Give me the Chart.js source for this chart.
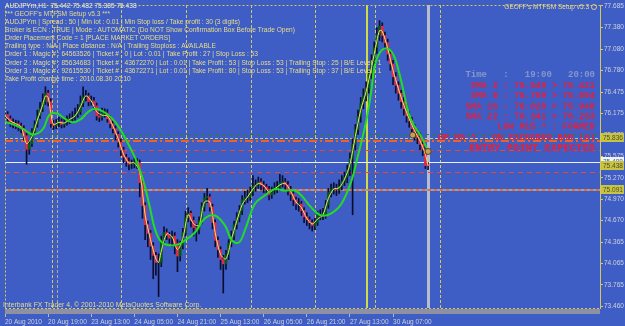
<!DOCTYPE html>
<html>
<head>
<meta charset="utf-8">
<title>AUDJPYm,H1</title>
<script src="https://cdn.jsdelivr.net/npm/chart.js@4.4.0/dist/chart.umd.min.js"></script>
<style>
  html, body { margin: 0; padding: 0; background: #3e5ec6; overflow: hidden; }
  #wrap { width: 625px; height: 326px; }
</style>
</head>
<body>
<div id="wrap"><canvas id="chart" width="625" height="326"></canvas></div>
<script>
// H1 bars, AUDJPYm, 20 Aug 2010 -> 30 Aug 2010 20:00
const opens = [
  76.12,76.16,76.10,76.05,76.02,76.03,76.00,75.96,75.86,75.67,
  75.75,75.92,76.02,76.14,76.24,76.34,76.46,76.34,76.03,76.00,
  76.03,76.06,76.02,76.05,76.07,76.10,76.12,76.16,76.20,76.32,
  76.41,76.42,76.34,76.35,76.28,76.14,76.12,76.18,76.18,76.10,
  76.03,75.96,75.88,75.77,75.66,75.56,75.50,75.46,75.46,75.49,
  75.48,75.20,74.88,74.61,74.49,74.31,74.18,74.08,74.08,74.39,
  74.50,74.46,74.42,74.45,74.35,74.17,74.32,74.50,74.71,74.77,
  74.67,74.57,74.54,74.67,74.86,74.99,75.00,74.86,74.64,74.39,
  74.26,74.12,74.06,74.19,74.35,74.45,74.61,74.71,74.81,74.96,
  74.99,75.00,75.07,75.15,75.17,75.21,75.17,75.14,75.11,75.03,
  75.09,75.13,75.14,75.20,75.21,75.17,75.11,75.04,74.96,74.90,
  74.90,74.81,74.72,74.68,74.64,74.60,74.64,74.74,74.75,74.75,
  74.89,75.06,75.11,75.11,75.10,75.15,75.22,75.28,75.38,75.54,
  75.74,75.95,76.13,76.31,76.42,76.53,76.73,76.91,77.10,77.28,
  77.40,77.27,77.17,77.01,76.87,76.69,76.57,76.46,76.34,76.24,
  76.14,76.07,75.96,75.89,75.84,75.74,75.67,75.442
];
const highs = [
  76.22,76.20,76.14,76.10,76.08,76.07,76.04,76.00,75.90,75.80,
  75.96,76.07,76.22,76.33,76.45,76.55,76.50,76.38,76.08,76.09,
  76.12,76.10,76.11,76.14,76.17,76.20,76.25,76.30,76.42,76.55,
  76.50,76.46,76.42,76.40,76.32,76.20,76.25,76.24,76.23,76.14,
  76.07,76.00,75.92,75.82,75.70,75.60,75.55,75.52,75.55,75.54,
  75.52,75.24,74.92,74.66,74.53,74.36,74.22,74.20,74.45,74.58,
  74.55,74.50,74.52,74.50,74.40,74.38,74.56,74.80,74.85,74.80,
  74.72,74.62,74.72,74.92,75.05,75.12,75.04,74.90,74.68,74.44,
  74.30,74.18,74.25,74.40,74.52,74.66,74.78,74.88,75.02,75.08,
  75.10,75.14,75.30,75.24,75.28,75.26,75.22,75.18,75.15,75.14,
  75.20,75.22,75.32,75.30,75.26,75.22,75.15,75.08,75.00,74.98,
  74.94,74.85,74.78,74.72,74.68,74.70,74.80,74.82,74.84,74.95,
  75.12,75.18,75.20,75.18,75.24,75.30,75.35,75.45,75.62,75.82,
  76.02,76.22,76.40,76.52,76.62,76.80,77.00,77.18,77.38,77.48,
  77.45,77.32,77.22,77.06,76.92,76.75,76.62,76.50,76.40,76.30,
  76.20,76.12,76.02,75.95,75.90,75.80,75.72,75.482
];
const lows = [
  76.08,76.05,75.99,75.97,75.96,75.93,75.90,75.80,75.46,75.60,
  75.71,75.88,75.98,76.10,76.20,76.30,76.28,75.98,75.95,75.96,
  75.99,75.97,75.98,76.01,76.03,76.06,76.08,76.12,76.16,76.27,
  76.35,76.28,76.29,76.22,76.08,76.06,76.08,76.12,76.05,75.97,
  75.90,75.80,75.70,75.58,75.48,75.43,75.38,75.40,75.41,75.40,
  75.00,74.70,74.40,74.30,74.12,73.85,73.90,73.60,74.02,74.33,
  74.40,74.35,74.30,74.20,73.95,74.10,74.27,74.45,74.65,74.58,
  74.45,74.38,74.48,74.62,74.80,74.92,74.80,74.55,74.30,74.15,
  73.98,73.65,73.98,74.12,74.30,74.40,74.55,74.65,74.75,74.90,
  74.92,74.95,75.02,75.08,75.12,75.10,75.06,75.04,74.96,74.98,
  75.04,75.06,75.09,75.14,75.10,75.03,74.95,74.88,74.82,74.80,
  74.74,74.64,74.60,74.55,74.52,74.54,74.60,74.68,74.68,74.70,
  74.84,75.00,75.04,75.02,75.05,75.10,75.16,75.20,75.30,74.75,
  75.66,75.88,76.05,76.24,76.35,76.46,76.66,76.85,77.02,77.20,
  77.18,77.08,76.92,76.78,76.58,76.46,76.36,76.25,76.15,76.05,
  75.98,75.88,75.80,75.75,75.66,75.58,75.40,75.385
];
const closes = [
  76.16,76.10,76.05,76.02,76.03,76.00,75.96,75.86,75.67,75.75,
  75.92,76.02,76.14,76.24,76.34,76.46,76.34,76.03,76.00,76.03,
  76.06,76.02,76.05,76.07,76.10,76.12,76.16,76.20,76.32,76.41,
  76.42,76.34,76.35,76.28,76.14,76.12,76.18,76.18,76.10,76.03,
  75.96,75.88,75.77,75.66,75.56,75.50,75.46,75.46,75.49,75.48,
  75.20,74.88,74.61,74.49,74.31,74.18,74.08,74.08,74.39,74.50,
  74.46,74.42,74.45,74.35,74.17,74.32,74.50,74.71,74.77,74.67,
  74.57,74.54,74.67,74.86,74.99,75.00,74.86,74.64,74.39,74.26,
  74.12,74.06,74.19,74.35,74.45,74.61,74.71,74.81,74.96,74.99,
  75.00,75.07,75.15,75.17,75.21,75.17,75.14,75.11,75.03,75.09,
  75.13,75.14,75.20,75.21,75.17,75.11,75.04,74.96,74.90,74.90,
  74.81,74.72,74.68,74.64,74.60,74.64,74.74,74.75,74.75,74.89,
  75.06,75.11,75.11,75.10,75.15,75.22,75.28,75.38,75.54,75.74,
  75.95,76.13,76.31,76.42,76.53,76.73,76.91,77.10,77.28,77.40,
  77.27,77.17,77.01,76.87,76.69,76.57,76.46,76.34,76.24,76.14,
  76.07,75.96,75.89,75.84,75.74,75.67,75.44,75.438
];

// fast (yellow) and slow (green) moving averages, [bar, price]
const fastSma = [
  [0,76.14],[2,76.07],[4,76.03],[6,75.98],[8,75.75],[10,75.85],[12,76.08],[14,76.30],[15,76.42],
  [16,76.40],[17,76.18],[18,76.02],[20,76.05],[22,76.04],[24,76.09],[26,76.14],[28,76.27],
  [30,76.42],[32,76.35],[34,76.20],[36,76.15],[38,76.14],[40,76.00],[42,75.82],[44,75.60],
  [46,75.48],[48,75.48],[50,75.35],[52,74.75],[54,74.40],[56,74.13],[57,74.08],[58,74.24],
  [60,74.48],[62,74.44],[64,74.26],[66,74.42],[68,74.75],[70,74.62],[72,74.60],[74,74.93],
  [76,74.93],[78,74.50],[80,74.19],[82,74.13],[84,74.40],[86,74.66],[88,74.89],[90,75.00],
  [92,75.11],[94,75.19],[96,75.16],[98,75.07],[100,75.11],[102,75.17],[104,75.19],[106,75.08],
  [108,74.93],[110,74.85],[112,74.70],[114,74.62],[116,74.69],[118,74.75],[120,74.98],
  [122,75.11],[124,75.13],[126,75.25],[128,75.46],[130,75.85],[132,76.22],[134,76.48],
  [136,76.82],[138,77.19],[139,77.34],[140,77.33],[142,77.09],[144,76.78],[146,76.52],
  [148,76.29],[150,76.10],[152,75.93],[154,75.79],[156,75.60],[157,75.44]
];
const slowSma = [
  [0,76.06],[3,76.02],[6.6,75.96],[10.3,75.88],[14,75.95],[16.6,76.16],[19.6,76.17],[22.2,76.10],
  [25.1,76.05],[28,76.09],[31,76.20],[33.6,76.24],[37.3,76.18],[41,76.05],[44.7,75.82],
  [48.4,75.54],[51,75.27],[53.5,74.90],[55.8,74.53],[58.3,74.36],[63.1,74.32],[66.8,74.39],
  [70.5,74.50],[74.2,74.70],[77.9,74.74],[81.6,74.60],[84.2,74.39],[86.8,74.36],[89,74.53],
  [92.7,74.90],[96.4,75.02],[100,75.11],[103.8,75.09],[107.5,75.09],[110,75.02],[113.7,74.85],
  [117.4,74.74],[121.1,74.77],[124.8,74.90],[128.5,75.22],[131.1,75.60],[134,76.06],
  [135.9,76.48],[137,76.80],[138.8,77.01],[141.4,77.09],[144,77.01],[145.9,76.80],
  [147.7,76.52],[149.6,76.20],[151.4,76.03],[154.4,75.85],[157,75.64]
];
const tradeMarks = [[151.3, 75.87], [157, 75.64]];

const priceTicks = [77.685, 77.380, 77.080, 76.780, 76.475, 76.175, 75.875, 75.575,
                    75.270, 74.970, 74.670, 74.365, 74.065, 73.765, 73.460];
const dateLabels = ['20 Aug 2010', '20 Aug 19:00', '23 Aug 13:00', '24 Aug 05:00', '24 Aug 21:00',
                    '25 Aug 13:00', '26 Aug 05:00', '26 Aug 21:00', '27 Aug 13:00', '30 Aug 07:00'];
const dateLabelBars = [0, 16, 32, 48, 64, 80, 96, 112, 128, 144];

// vertical objects (bar positions) and horizontal levels (prices)
const dottedBars = [17.4, 43.2, 67.2, 91.2, 115.2, 137.4, 161.4];
const grayDottedBar = 19.2;
const solidBar = 134.4;
const currentBar = 157;
const trendLevel = 75.88;
const entryLevel = 75.836;
const orderLevel = 75.78;
const stopLevelHigh = 75.66;
const askPrice = 75.488;
const bidPrice = 75.438;
const stopLevelLow = 75.35;
const targetLevel = 75.091;

const infoLines = [
  'AUDJPYm,H1  75.442 75.482 75.385 75.438',
  '*** GEOFF\'s MTFSM Setup v5.3 ***',
  'AUDJPYm | Spread : 50 | Min lot : 0.01 | Min Stop loss / Take profit : 30 (3 digits)',
  'Broker is ECN : TRUE | Mode : AUTOMATIC (Do NOT Show Confirmation Box Before Trade Open)',
  'Order Placement Code = 1 [PLACE MARKET ORDERS]',
  'Trailing type : N/A | Place distance : N/A | Trailing Stoploss : AVAILABLE',
  'Order 1 : Magic # : 64563526 | Ticket # : 0 | Lot : 0.01 | Take Profit : 27 | Stop Loss : 53',
  'Order 2 : Magic # : 85634683 | Ticket # : 43672270 | Lot : 0.01 | Take Profit : 53 | Stop Loss : 53 | Trailing Stop : 25 | B/E Level : 1',
  'Order 3 : Magic # : 92615530 | Ticket # : 43672271 | Lot : 0.01 | Take Profit : 80 | Stop Loss : 53 | Trailing Stop : 37 | B/E Level : 1',
  'Take Profit change time : 2010.08.30 20:10'
];
const panelLines = [
  'SMA 2 : 75.549 > 75.421',
  'SMA 8 : 75.759 > 75.694',
  'SMA 16 : 76.020 > 75.940',
  'SMA 22 : 76.341 > 76.263',
  'LOW M15 ^ : FORMED',
  'HP M5 ^ : ON EXCEEDED BAR (0)'
];

document.addEventListener('DOMContentLoaded', function() {
    const YELLOW = '#d8c858';
    const SMALL = '"Liberation Sans", Arial, sans-serif';
    const MONO = '"Liberation Mono", "Courier New", monospace';

    const wickData = closes.map((c, i) => ({ x: i, y: [lows[i], highs[i]] }));
    const bodyData = closes.map((c, i) => ({ x: i, y: [opens[i], c] }));

    // chart objects behind the bars, texts and labels on top
    const objects = {
        id: 'objects',
        beforeDatasetsDraw(chart) {
            const { ctx, chartArea: a, scales: { x, y } } = chart;
            ctx.save();
            ctx.beginPath();
            ctx.rect(a.left, a.top, a.right - a.left, a.bottom - a.top);
            ctx.clip();

            function vline(bar, color, width, dash) {
                const px = Math.round(x.getPixelForValue(bar)) + (width % 2 ? 0.5 : 0);
                ctx.strokeStyle = color; ctx.lineWidth = width; ctx.setLineDash(dash);
                ctx.beginPath(); ctx.moveTo(px, a.top); ctx.lineTo(px, a.bottom); ctx.stroke();
            }
            function hline(price, color, width, dash) {
                const py = Math.round(y.getPixelForValue(price)) + (width % 2 ? 0.5 : 0);
                ctx.strokeStyle = color; ctx.lineWidth = width; ctx.setLineDash(dash);
                ctx.beginPath(); ctx.moveTo(a.left, py); ctx.lineTo(a.right, py); ctx.stroke();
            }

            dottedBars.forEach(b => vline(b, YELLOW, 1, [3, 2]));
            vline(grayDottedBar, '#b4ae90', 1, [3, 2]);
            vline(solidBar, '#cfdc48', 2, []);
            vline(currentBar, '#b8bccc', 3, []);

            hline(trendLevel, '#2f7a38', 1, [4, 3]);
            hline(entryLevel, YELLOW, 1, [3, 2]);
            hline(orderLevel, '#f0602a', 2, [8, 3, 2, 3]);
            hline(stopLevelHigh, '#e44838', 1, [5, 4]);
            hline(askPrice, '#eef0f8', 1, []);
            hline(stopLevelLow, '#e44838', 1, [5, 4]);
            hline(targetLevel, '#9aa0b0', 2, [3, 3]);
            ctx.lineDashOffset = 3;
            hline(targetLevel, '#f06a2a', 2, [3, 3]);
            ctx.restore();
        },
        afterDraw(chart) {
            const { ctx, chartArea: a, scales: { y } } = chart;
            ctx.save();

            // frame and bottom strip
            ctx.strokeStyle = YELLOW; ctx.lineWidth = 1; ctx.setLineDash([2, 2]);
            ctx.beginPath();
            ctx.moveTo(a.left + 0.5, a.bottom + 0.5); ctx.lineTo(a.left + 0.5, a.top + 0.5);
            ctx.lineTo(a.right, a.top + 0.5);
            ctx.moveTo(a.left, a.bottom + 0.5); ctx.lineTo(a.right, a.bottom + 0.5);
            ctx.stroke();
            ctx.setLineDash([]);
            ctx.fillStyle = '#8e90a4';
            ctx.fillRect(a.left, a.bottom + 1, a.right - a.left, 5);

            // info text, top left
            ctx.textBaseline = 'middle';
            ctx.textAlign = 'left';
            ctx.font = '6.6px ' + SMALL;
            infoLines.forEach((t, i) => {
                ctx.fillStyle = i === 0 ? '#f0eed8' : '#eadc86';
                ctx.fillText(t, 5, 6 + i * 8.1);
            });
            ctx.fillStyle = '#eadc86';
            ctx.font = '6.9px ' + SMALL;
            ctx.fillText('Interbank FX Trader 4, \u00a9 2001-2010 MetaQuotes Software Corp.', 3, 305);

            // top right caption
            ctx.font = '6.5px ' + SMALL;
            ctx.textAlign = 'right';
            ctx.fillText('GEOFF\'s MTFSM Setup v5.3', 589, 7);
            ctx.strokeStyle = '#d8cc80'; ctx.lineWidth = 1;
            ctx.beginPath(); ctx.arc(594, 7, 2.5, 0, Math.PI * 2); ctx.stroke();

            // signal panel
            ctx.font = 'bold 9px ' + MONO;
            ctx.fillStyle = '#8796c8';
            ctx.fillText('Time   :   19:00   20:00', 595, 75);
            ctx.fillStyle = '#e4203c';
            panelLines.forEach((t, i) => ctx.fillText(t, 595, 85.5 + i * 10.4));
            ctx.font = 'bold 10.5px ' + MONO;
            ctx.fillText('ENTRY POINT EXPECTED', 595, 148);

            // price boxes on the axis
            function box(price, fill, text) {
                const py = Math.round(y.getPixelForValue(price));
                ctx.fillStyle = fill;
                ctx.fillRect(601, py - 5, 23, 9);
                ctx.fillStyle = text;
                ctx.font = '6.5px ' + SMALL;
                ctx.textAlign = 'left';
                ctx.fillText(price.toFixed(3), 603, py);
            }
            box(entryLevel, '#c8c440', '#4c4c34');
            box(askPrice, '#f2f2f2', '#4060c0');
            box(bidPrice, '#c8c440', '#4c4c34');
            box(targetLevel, '#c8c440', '#4c4c34');
            ctx.restore();
        }
    };

    new Chart(document.getElementById('chart'), {
        type: 'bar',
        data: {
            datasets: [
                {
                    type: 'line',
                    label: 'SMA slow',
                    data: slowSma.map(p => ({ x: p[0], y: p[1] })),
                    borderColor: '#22dc22',
                    borderWidth: 2,
                    pointRadius: 0,
                    tension: 0.4,
                    order: 0
                },
                {
                    type: 'line',
                    label: 'SMA fast',
                    data: fastSma.map(p => ({ x: p[0], y: p[1] })),
                    borderColor: '#f0e464',
                    borderWidth: 1,
                    pointRadius: 0,
                    tension: 0.3,
                    order: 1
                },
                {
                    type: 'line',
                    label: 'Trades',
                    data: tradeMarks.map(p => ({ x: p[0], y: p[1] })),
                    showLine: false,
                    pointRadius: 3,
                    pointBackgroundColor: '#c8a050',
                    pointBorderColor: '#5a4020',
                    pointBorderWidth: 1,
                    order: -1
                },
                {
                    label: 'Bodies',
                    data: bodyData,
                    barThickness: 2,
                    minBarLength: 1,
                    grouped: false,
                    backgroundColor: ctx => closes[ctx.dataIndex] >= opens[ctx.dataIndex] ? '#005e10' : '#e4284a',
                    order: 2
                },
                {
                    label: 'Wicks',
                    data: wickData,
                    barThickness: 1,
                    grouped: false,
                    backgroundColor: '#0a0c2c',
                    order: 3
                }
            ]
        },
        options: {
            responsive: false,
            animation: false,
            events: [],
            layout: { padding: { left: 2, top: 2, right: 0, bottom: 0 } },
            plugins: {
                legend: { display: false },
                tooltip: { enabled: false }
            },
            scales: {
                x: {
                    type: 'linear',
                    min: 0,
                    max: 220.8,
                    offset: false,
                    afterBuildTicks: s => { s.ticks = dateLabelBars.map(v => ({ value: v })); },
                    afterFit: s => { s.height = 18; s.paddingLeft = 0; s.paddingRight = 0; },
                    ticks: {
                        autoSkip: false,
                        maxRotation: 0,
                        align: 'start',
                        padding: 1,
                        color: '#cfd0d8',
                        font: { size: 6.5, family: SMALL },
                        callback: (v, i) => dateLabels[i]
                    },
                    grid: { drawOnChartArea: false, offset: false, tickLength: 9, color: '#b8b8c0' },
                    border: { display: false }
                },
                y: {
                    position: 'right',
                    min: 73.439,
                    max: 77.699,
                    afterBuildTicks: s => { s.ticks = priceTicks.map(v => ({ value: v })); },
                    afterFit: s => { s.width = 25; s.paddingTop = 0; s.paddingBottom = 0; },
                    ticks: {
                        padding: 1,
                        color: '#d0d0d8',
                        font: { size: 6.5, family: SMALL },
                        callback: v => v.toFixed(3)
                    },
                    grid: { drawOnChartArea: false, tickLength: 3, color: YELLOW },
                    border: { display: true, color: YELLOW, dash: [2, 2] }
                }
            }
        },
        plugins: [objects]
    });
});
</script>
</body>
</html>
